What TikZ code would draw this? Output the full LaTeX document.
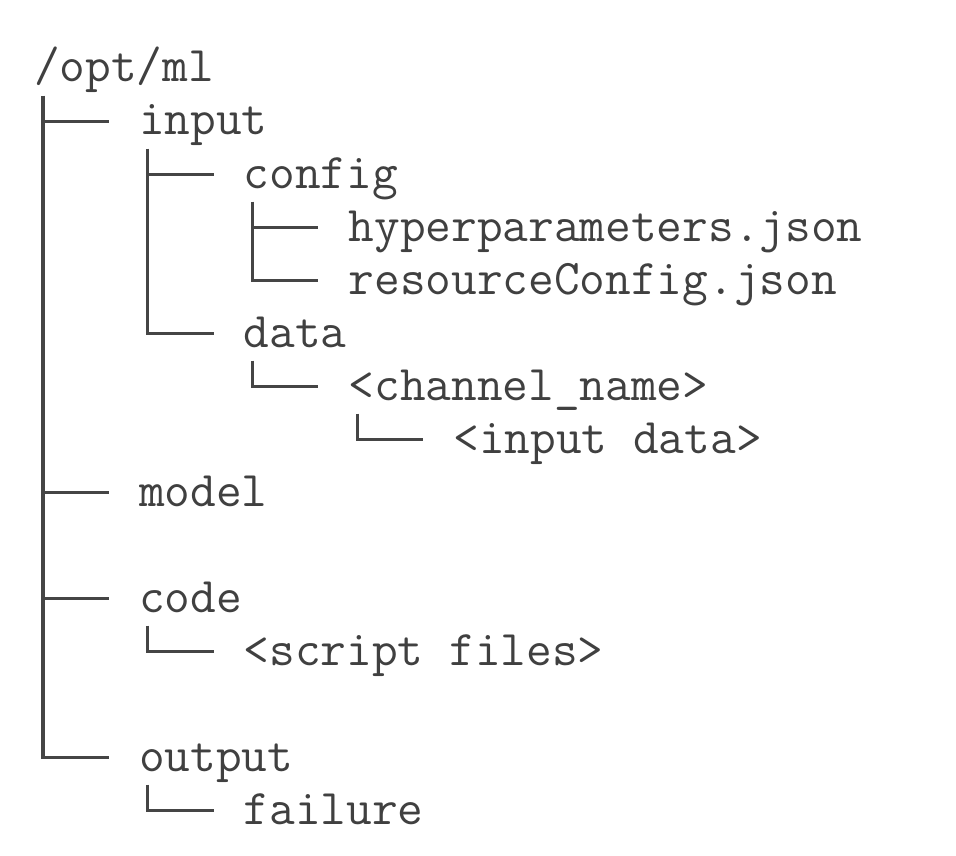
\documentclass[tikz,border=0pt]{standalone}
\usepackage{fontspec}
\usetikzlibrary{calc}
\definecolor{ink}{HTML}{454545}
\definecolor{txt}{HTML}{404040}
\tikzset{
  lbl/.style={anchor=west,inner sep=0pt,text height=35.6pt,text depth=9pt,
    font=\ttfamily\fontsize{49.9}{56}\selectfont,text=txt},
  tree/.style={draw=ink,line width=3.2pt,line join=miter}
}
% vertical run from parent #1 spanning first child #2 to last child #3, ending in a corner toward #3
\newcommand\treelastkid[3]{%
  \draw[tree] let \p1=(#1.west),\p2=(#2.west),\p3=(#3.west) in
    (\x1+9pt,\y2+26pt) -- (\x1+9pt,\y3) -- (\x3-30pt,\y3);}
% horizontal tee from parent #1 toward child #2
\newcommand\treetee[2]{%
  \draw[tree] let \p1=(#1.west),\p2=(#2.west) in
    (\x1+9pt,\y2) -- (\x2-30pt,\y2);}
\begin{document}
\begin{tikzpicture}[x=1pt,y=1pt]
\useasboundingbox (0,0) rectangle (956,-856);
% columns: 34 + 26.2*k ; rows: 68.7 + 53*k
\node[lbl] (opt)   at (34,-68.7)    {/opt/ml};
\node[lbl] (input) at (138.8,-121.7) {input};
\node[lbl] (config) at (243.6,-174.7) {config};
\node[lbl] (hyper) at (348.4,-227.7) {hyperparameters.json};
\node[lbl] (res)   at (348.4,-280.7) {resourceConfig.json};
\node[lbl] (data)  at (243.6,-333.7) {data};
\node[lbl] (chan)  at (348.4,-386.7) {<channel\_name>};
\node[lbl] (indata) at (453.2,-439.7) {<input data>};
\node[lbl] (model) at (138.8,-492.7) {model};
\node[lbl] (code)  at (138.8,-598.7) {code};
\node[lbl] (script) at (243.6,-651.7) {<script files>};
\node[lbl] (output) at (138.8,-757.7) {output};
\node[lbl] (fail)  at (243.6,-810.7) {failure};
% connectors
\treelastkid{opt}{input}{output}
\treetee{opt}{input}
\treetee{opt}{model}
\treetee{opt}{code}
\treelastkid{input}{config}{data}
\treetee{input}{config}
\treelastkid{config}{hyper}{res}
\treetee{config}{hyper}
\treelastkid{data}{chan}{chan}
\treelastkid{chan}{indata}{indata}
\treelastkid{code}{script}{script}
\treelastkid{output}{fail}{fail}
\end{tikzpicture}
\end{document}
